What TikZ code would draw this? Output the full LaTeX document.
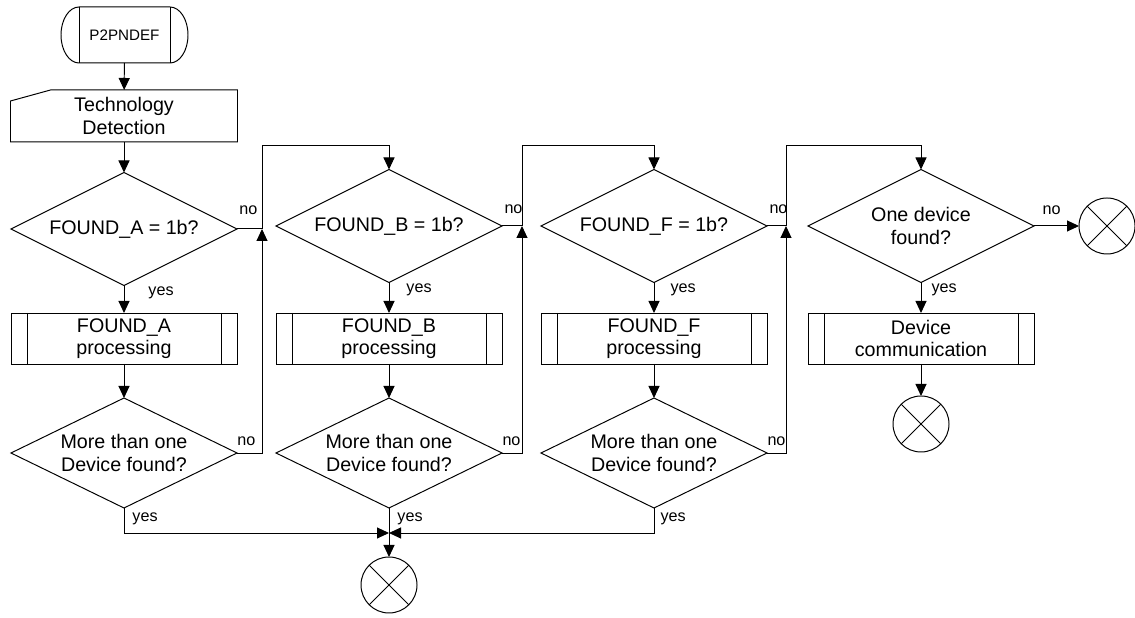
\documentclass[tikz,border=0pt]{standalone}
\usepackage{fontspec}
\setmainfont{Liberation Sans}
\usetikzlibrary{arrows.meta,shapes.geometric}

\begin{document}
\begin{tikzpicture}[x=0.25mm, y=0.25mm, line width=0.7pt,
  font=\fontsize{14}{15.8}\selectfont, >={Triangle[length=3mm, width=2.75mm]},
  dec/.style={diamond, draw, aspect=2, inner sep=0pt, outer sep=0pt, align=center,
              minimum width=56.5mm, minimum height=28.25mm},
  subproc/.style={rectangle, draw, outer sep=0pt, align=center,
              minimum width=56.5mm, minimum height=12.75mm,
              path picture={\draw ([xshift=4mm]path picture bounding box.north west) -- ([xshift=4mm]path picture bounding box.south west)
                ([xshift=-4mm]path picture bounding box.north east) -- ([xshift=-4mm]path picture bounding box.south east);}},
  endpt/.style={circle, draw, outer sep=0pt, minimum size=14mm},
  lbl/.style={font=\fontsize{11.5}{12}\selectfont, inner sep=0pt}]
  \useasboundingbox (0,0) rectangle (1135,618);

  % start and input
  \node[outer sep=0pt, minimum width=22.75mm, minimum height=14mm,
        font=\fontsize{10.8}{12}\selectfont] (start) at (124.5,583) {P2PNDEF};
  \draw (start.north west) -- (start.north east)
        arc[start angle=90, end angle=-90, x radius=4.5mm, y radius=7mm]
        -- (start.south west)
        arc[start angle=270, end angle=90, x radius=4.5mm, y radius=7mm] -- cycle;
  \draw (start.north west) -- (start.south west) (start.north east) -- (start.south east);

  \node[outer sep=0pt, minimum width=56.75mm, minimum height=13mm, align=center]
    (tech) at (124,502) {Technology\\Detection};
  \draw (tech.south west) -- ([yshift=-2.75mm]tech.north west) -- ([xshift=10mm]tech.north west)
        -- (tech.north east) -- (tech.south east) -- cycle;

  % decisions
  \node[dec] (qa) at (124,389) {FOUND\_A = 1b?};
  \node[dec] (qb) at (389,392) {FOUND\_B = 1b?};
  \node[dec] (qf) at (654,392) {FOUND\_F = 1b?};
  \node[dec] (qone) at (921,392) {One device\\found?};

  \node[subproc] (pa) at (124,279.5) {FOUND\_A\\processing};
  \node[subproc] (pb) at (389,279.5) {FOUND\_B\\processing};
  \node[subproc] (pf) at (654,279.5) {FOUND\_F\\processing};
  \node[subproc] (pdev) at (921,279.5) {Device\\communication};

  \node[dec, minimum height=27.5mm] (ma) at (124,165) {More than one\\Device found?};
  \node[dec, minimum height=27.5mm] (mb) at (389,165) {More than one\\Device found?};
  \node[dec, minimum height=27.5mm] (mf) at (654,165) {More than one\\Device found?};

  % connectors (ends)
  \node[endpt] (ebot) at (389,33) {};
  \node[endpt] (eone) at (1107,392) {};
  \node[endpt] (edev) at (921,194) {};
  \foreach \c in {ebot,eone,edev}
    \draw (\c.north east) -- (\c.south west) (\c.north west) -- (\c.south east);

  \coordinate (ja) at (262,389);
  \coordinate (jb) at (522,392);
  \coordinate (jf) at (786,392);
  \coordinate (ta) at (262,472);
  \coordinate (tb) at (522,472);
  \coordinate (tf) at (786,472);
  \coordinate (jm) at (389,85);

  \draw[->] (start) -- (tech);
  \draw[->] (tech) -- (qa);

  \draw[->] (qa) -- node[lbl, pos=0.25, right=6mm]{yes} (pa);
  \draw[->] (qb) -- node[lbl, pos=0.25, right=4.25mm]{yes} (pb);
  \draw[->] (qf) -- node[lbl, pos=0.25, right=4mm]{yes} (pf);
  \draw[->] (qone) -- node[lbl, pos=0.25, right=2.5mm]{yes} (pdev);

  \draw[->] (pa) -- (ma);
  \draw[->] (pb) -- (mb);
  \draw[->] (pf) -- (mf);
  \draw[->] (pdev) -- (edev);

  % no branches
  \draw[->] (qa.east) -- node[lbl, pos=0, anchor=south west, xshift=0.5mm, yshift=3.5mm]{no} (ja) -- (ta) -| (qb.north);
  \draw[->] (qb.east) -- node[lbl, pos=0, anchor=south west, xshift=0.5mm, yshift=3mm]{no} (jb) -- (tb) -| (qf.north);
  \draw[->] (qf.east) -- node[lbl, pos=0, anchor=south west, xshift=0.5mm, yshift=3mm]{no} (jf) -- (tf) -| (qone.north);
  \draw[->] (qone) -- node[lbl, pos=0, anchor=south west, xshift=2mm, yshift=2.75mm]{no} (eone);

  \draw[->] (ma.east) -- node[lbl, pos=0, anchor=south west, yshift=1.75mm]{no} (ma.east -| ja) -- (ja);
  \draw[->] (mb.east) -- node[lbl, pos=0, anchor=south west, yshift=1.75mm]{no} (mb.east -| jb) -- (jb);
  \draw[->] (mf.east) -- node[lbl, pos=0, anchor=south west, yshift=1.75mm]{no} (mf.east -| jf) -- (jf);

  % yes branches
  \draw[->] (ma.south) -- node[lbl, pos=0, anchor=west, xshift=2mm, yshift=-2.75mm]{yes} (ma.south |- jm) -- (jm);
  \draw[->] (mf.south) -- node[lbl, pos=0, anchor=west, xshift=1.5mm, yshift=-2.75mm]{yes} (mf.south |- jm) -- (jm);
  \draw[->] (mb) -- node[lbl, pos=0, anchor=west, xshift=2mm, yshift=-2.75mm]{yes} (ebot);
\end{tikzpicture}
\end{document}
